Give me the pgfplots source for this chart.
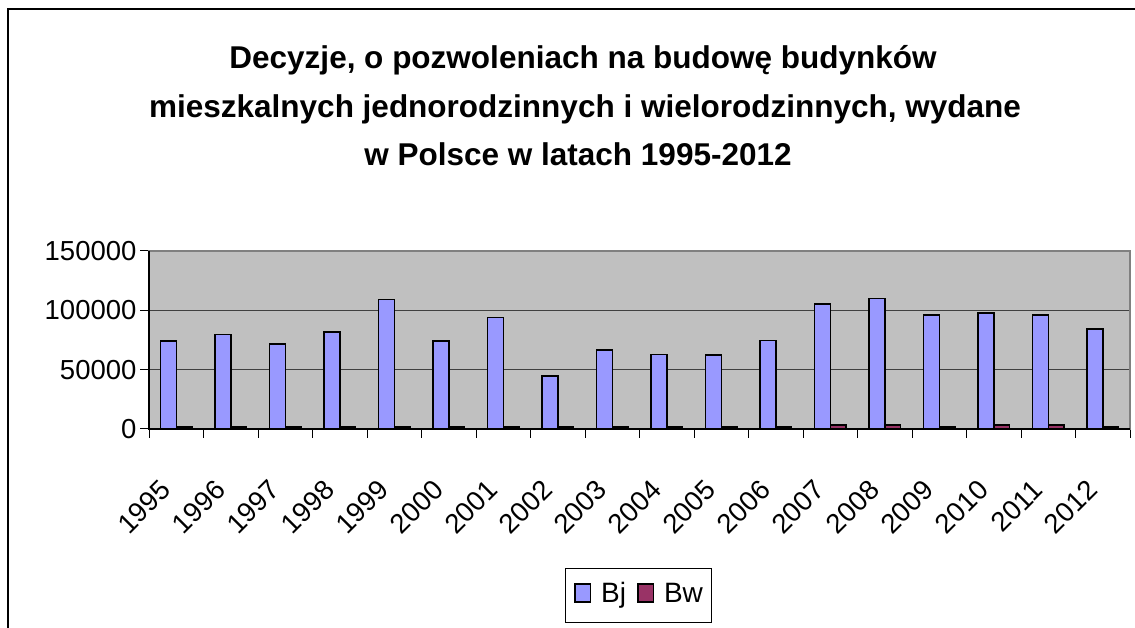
\documentclass[border=0pt]{standalone}
\usepackage{fontspec}
\setmainfont{Liberation Sans}
\usepackage{pgfplots}
\pgfplotsset{compat=1.18}
\definecolor{bjc}{HTML}{9999FF}
\definecolor{bwc}{HTML}{993366}
\definecolor{plotbg}{HTML}{C0C0C0}
\definecolor{bordergray}{HTML}{808080}
\pgfplotsset{sqlegend/.style={legend image code/.code={\draw[##1,/tikz/.cd,line width=1.5pt] (0.75pt,-6.2pt) rectangle (16.25pt,11.8pt);}}}
\begin{document}
\begin{tikzpicture}[x=1pt,y=1pt]
\path[use as bounding box] (0,0) rectangle (1135,628);
\draw[line width=2pt] (8,0) -- (8,619) -- (1135,619);
\node[anchor=base, font=\bfseries\fontsize{31.5}{36}\selectfont, inner sep=0pt] at (583,559) {Decyzje, o pozwoleniach na budowę budynków};
\node[anchor=base, font=\bfseries\fontsize{31.5}{36}\selectfont, inner sep=0pt] at (585,510.7) {mieszkalnych jednorodzinnych i wielorodzinnych, wydane};
\node[anchor=base, font=\bfseries\fontsize{31.5}{36}\selectfont, inner sep=0pt] at (578,462) {w Polsce w latach 1995-2012};
\begin{axis}[
  at={(149pt,199pt)}, anchor=south west,
  scale only axis, width=981pt, height=178pt,
  xmin=-0.5, xmax=17.5, ymin=0, ymax=150000,
  axis background/.style={fill=plotbg},
  axis line style={draw=bordergray, line width=1.5pt},
  ytick={0,50000,100000,150000},
  yticklabels={0,50000,100000,150000},
  scaled y ticks=false,
  yticklabel style={font=\fontsize{27.5}{32}\selectfont},
  ymajorgrids,
  major grid style={draw=black!75, line width=1pt},
  xtick={-0.5,0.5,...,17.5},
  xticklabels={},
  extra x ticks={0,1,...,17},
  extra x tick labels={1995,1996,1997,1998,1999,2000,2001,2002,2003,2004,2005,2006,2007,2008,2009,2010,2011,2012},
  extra x tick style={major tick length=0pt, xticklabel style={xshift=-17.5pt, yshift=-49pt, rotate=45, anchor=north east, inner sep=0pt, font=\fontsize{27.5}{32}\selectfont}},
  tick align=outside,
  major tick length=9pt,
  tick style={draw=black, line width=1pt},
  xtick pos=left, ytick pos=left,
  legend columns=2,
  legend style={at={(0.499,-0.9365)}, anchor=center, draw=black, line width=1pt, inner xsep=9pt, inner ysep=14pt,
    font=\fontsize{28}{32}\selectfont,
    nodes={inner sep=0pt, text height=20pt, text depth=6pt},
    /tikz/every odd column/.append style={column sep=10pt},
    /tikz/every even column/.append style={column sep=11pt}},
]
\addplot[ybar, bar width=0.286, bar shift=-0.143, fill=bjc, draw=black, line width=1.5pt, sqlegend] coordinates {
(0,74000) (1,79700) (2,71800) (3,81600) (4,109200) (5,74000) (6,94000) (7,44700) (8,66700)
(9,62700) (10,62400) (11,74400) (12,105500) (13,109800) (14,96200) (15,97900) (16,96200) (17,84300)};
\addplot[ybar, bar width=0.286, bar shift=0.143, fill=bwc, draw=black, line width=1.5pt, sqlegend] coordinates {
(0,1500) (1,1500) (2,1500) (3,1500) (4,1500) (5,1500) (6,1500) (7,1500) (8,1500)
(9,1500) (10,1500) (11,1500) (12,3500) (13,3500) (14,1500) (15,3500) (16,3500) (17,1500)};
\legend{Bj,Bw}
\end{axis}
\draw[black, line width=1.5pt] (149,377) -- (149,199) -- (1130,199);
\end{tikzpicture}
\end{document}
